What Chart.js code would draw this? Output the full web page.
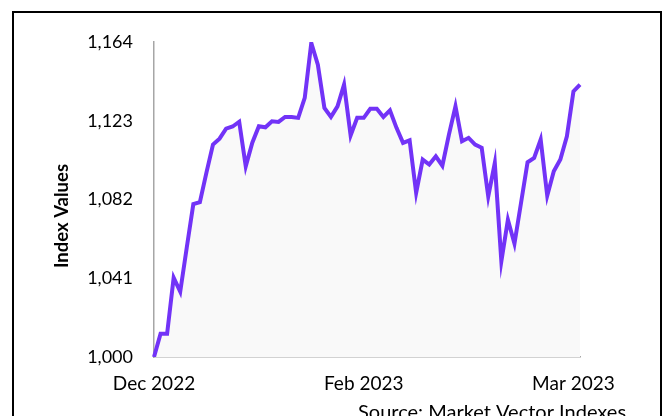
<!DOCTYPE html>
<html lang="en">
<head>
  <meta charset="UTF-8" />
  <title>Index Values</title>
  <script src="https://cdn.jsdelivr.net/npm/chart.js"></script>
  <style>
    html, body { margin: 0; padding: 0; background: #fff; }
    #wrap { width: 666px; height: 416px; position: relative; }
  </style>
</head>
<body>
  <div id="wrap"><canvas id="indexChart"></canvas></div>

  <script>
    // index values, one per point
    const indexValues = [
      1000, 1012.1, 1012.1, 1041.3, 1034, 1057, 1079.6, 1080.6, 1096, 1110.6,
      1113.7, 1118.9, 1120, 1122.5, 1099.3, 1111.6, 1120.1, 1119.6, 1122.7, 1122.4,
      1125, 1125, 1124.5, 1134.9, 1163.5, 1152.2, 1129.7, 1125, 1130.5, 1141.8,
      1115.3, 1124.5, 1124.5, 1129.2, 1129.2, 1125, 1128.4, 1119.3, 1111.5, 1112.8,
      1085.4, 1102.8, 1100.2, 1104.5, 1099.6, 1115.8, 1130.5, 1112.3, 1114.1, 1110.6,
      1108.9, 1083.6, 1101, 1049.8, 1071.5, 1059, 1080.2, 1101.4, 1103.6, 1113.2,
      1084, 1096.7, 1102.8, 1114.9, 1138.3, 1141.8
    ];
    const categories = indexValues.map((v, i) => i);

    // x tick labels and where they sit
    const xTickLabels = ['Dec 2022', 'Feb 2023', 'Mar 2023'];
    const xTickIndex = [0, 32, 64];

    // y ticks
    const yMin = 1000;
    const yMax = 1164;
    const yStep = 41;

    const yTitle = 'Index Values';
    const sourceText = 'Source: Market Vector Indexes';

    const FONT = 'Lato, "Open Sans", sans-serif';

    const extras = {
      id: 'extras',
      beforeDraw(chart) {
        const c = chart.ctx;
        c.save();
        c.strokeStyle = '#000';
        c.lineWidth = 2;
        c.strokeRect(13, 12, 648, 430);
        c.restore();
      },
      afterDraw(chart) {
        const c = chart.ctx;
        c.save();
        c.fillStyle = '#000';
        c.font = 'bold 18.5px ' + FONT;
        c.translate(62, 216);
        c.rotate(-Math.PI / 2);
        c.textAlign = 'center';
        c.textBaseline = 'middle';
        c.fillText(yTitle, 0, 0);
        c.restore();

        c.save();
        c.fillStyle = '#000';
        c.font = '20px ' + FONT;
        c.textAlign = 'left';
        c.textBaseline = 'alphabetic';
        c.fillText(sourceText, 358, 419);
        c.restore();
      }
    };

    const ctx = document.getElementById('indexChart').getContext('2d');
    new Chart(ctx, {
      type: 'line',
      data: {
        labels: categories,
        datasets: [{
          data: indexValues,
          borderColor: '#7233f7',
          borderWidth: 4,
          backgroundColor: '#f9f9f9',
          fill: 'origin',
          pointRadius: 0,
          tension: 0
        }]
      },
      options: {
        responsive: true,
        maintainAspectRatio: false,
        animation: false,
        layout: { padding: { left: 0, right: 86, top: 42, bottom: 19 } },
        plugins: {
          legend: { display: false },
          tooltip: { enabled: false }
        },
        scales: {
          x: {
            type: 'category',
            offset: false,
            grid: { display: false, drawTicks: false },
            border: { display: true, color: '#a6a6a6', width: 1.5 },
            ticks: {
              autoSkip: false,
              maxRotation: 0,
              minRotation: 0,
              padding: 15,
              color: '#000',
              font: { family: FONT, size: 19 },
              callback: (val, i) => {
                const k = xTickIndex.indexOf(i);
                return k >= 0 ? xTickLabels[k] : '';
              }
            },
            afterFit: (s) => { s.height = 40; }
          },
          y: {
            min: yMin,
            max: yMax,
            grid: { display: false, drawTicks: false },
            border: { display: true, color: '#a6a6a6', width: 1.5 },
            ticks: {
              stepSize: yStep,
              padding: 21,
              color: '#000',
              font: { family: FONT, size: 18 },
              callback: (v) => v.toLocaleString('en-US')
            },
            afterFit: (s) => { s.width = 154; }
          }
        }
      },
      plugins: [extras]
    });
  </script>
</body>
</html>
